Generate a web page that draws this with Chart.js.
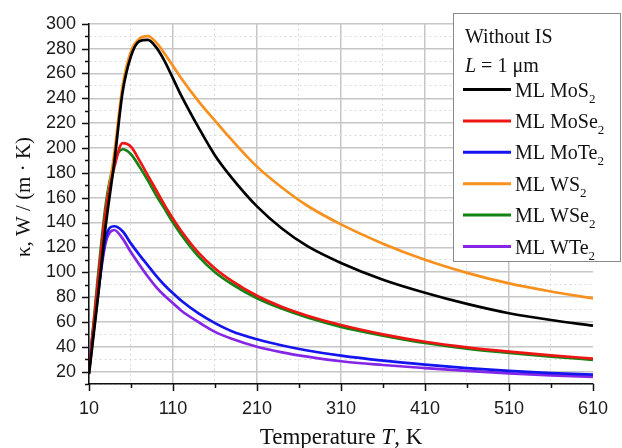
<!DOCTYPE html>
<html>
<head>
<meta charset="utf-8">
<script src="https://cdn.jsdelivr.net/npm/chart.js@4.4.1/dist/chart.umd.min.js"></script>
<style>
  body { margin: 0; background: #fff; }
  canvas { display: block; }
</style>
</head>
<body>
<canvas id="kappaChart" width="622" height="448"></canvas>
<script>
// Temperature grid (K) and thermal conductivity values, W/(m K)
const temps = [10, 20, 30, 40, 50, 60, 70, 80, 90, 100, 110, 120, 140, 160, 180, 210, 240, 270, 310, 360, 410, 460, 510, 560, 610];

const mos2  = [18, 76, 138, 188, 245, 274, 286, 287, 281, 270, 256, 242, 217, 194, 176, 153, 135, 121, 107.5, 94, 83.5, 74.5, 67, 61.5, 57];
const mose2 = [19, 88, 150, 184, 204, 201, 190, 178, 166, 154, 143, 133, 116, 103, 93, 81, 72, 65, 57.5, 50, 44, 39.5, 36, 33, 30.5];
const mote2 = [22, 78, 128, 137, 133, 123, 114, 105.5, 97, 89.5, 83, 77, 67, 59, 52.5, 46, 41, 37, 32.8, 28.8, 25.6, 22.8, 20.5, 18.8, 17.5];
const ws2   = [18, 80, 148, 195, 250, 278, 288, 290, 285, 276, 266, 256, 238, 222, 206.5, 185, 168, 153.5, 138.5, 123, 110, 99.5, 91, 84.5, 79];
const wse2  = [20, 92, 155, 188, 199, 195, 185, 174, 162, 151, 140, 130, 113, 100, 90.5, 79, 70.5, 63.5, 56, 49, 43, 38.5, 35, 32, 29.5];
const wte2  = [27, 80, 124, 134, 127, 116, 106, 96.5, 88, 81, 75, 69, 60, 52, 46.5, 40, 35.5, 32, 28.3, 25.3, 22.8, 20.5, 18.6, 17, 15.7];

const seriesNames = ['MoS', 'MoSe', 'MoTe', 'WS', 'WSe', 'WTe'];
const seriesValues = [mos2, mose2, mote2, ws2, wse2, wte2];
const seriesColors = ['#000000', '#ee1515', '#1414ee', '#f8901e', '#138413', '#8526e6'];

const xMajorTicks = [10, 110, 210, 310, 410, 510, 610];
const xMinorTicks = [60, 160, 260, 360, 460, 560];
const yMajorTicks = [20, 40, 60, 80, 100, 120, 140, 160, 180, 200, 220, 240, 260, 280, 300];
const yMinorTicks = [10, 30, 50, 70, 90, 110, 130, 150, 170, 190, 210, 230, 250, 270, 290];

const serif = '"Liberation Serif", "Times New Roman", serif';
const sans = '"Liberation Sans", Arial, sans-serif';

function isMajor(scale, value) {
    return (scale === 'x' ? xMajorTicks : yMajorTicks).includes(value);
}

function gridColor(axis) {
    return function (ctx) {
        if (!ctx.tick) return '#c8c8c8';
        if (axis === 'x' && ctx.tick.value === 610) return 'rgba(0,0,0,0)';
        return isMajor(axis, ctx.tick.value) ? '#c6c6c6' : '#dadada';
    };
}

function gridDash(axis) {
    return function (ctx) {
        if (!ctx.tick) return [];
        return isMajor(axis, ctx.tick.value) ? [] : [2, 3];
    };
}

// Small outward tick marks, long for labelled ticks
const tickMarks = {
    id: 'tickMarks',
    afterDraw(chart) {
        const { ctx, chartArea: a } = chart;
        const x = chart.scales.x, y = chart.scales.y;
        ctx.save();
        ctx.strokeStyle = '#111';
        ctx.lineWidth = 1.5;
        ctx.beginPath();
        y.ticks.forEach(function (t) {
            const py = Math.round(y.getPixelForValue(t.value)) + 0.5;
            const len = isMajor('y', t.value) ? 7 : 4;
            ctx.moveTo(a.left - len, py);
            ctx.lineTo(a.left, py);
        });
        x.ticks.forEach(function (t) {
            const px = Math.round(x.getPixelForValue(t.value)) + 0.5;
            const len = isMajor('x', t.value) ? 7 : 4;
            ctx.moveTo(px, a.bottom);
            ctx.lineTo(px, a.bottom + len);
        });
        ctx.stroke();
        ctx.restore();
    }
};

// Axis titles with italic parts
function drawParts(ctx, parts, size, x, y) {
    let total = 0;
    parts.forEach(function (p) {
        ctx.font = (p.italic ? 'italic ' : '') + size + 'px ' + serif;
        p.w = ctx.measureText(p.text).width;
        total += p.w;
    });
    let cx = x - total / 2;
    parts.forEach(function (p) {
        ctx.font = (p.italic ? 'italic ' : '') + size + 'px ' + serif;
        ctx.fillText(p.text, cx, y);
        cx += p.w;
    });
}

const axisTitles = {
    id: 'axisTitles',
    afterDraw(chart) {
        const { ctx, chartArea: a } = chart;
        ctx.save();
        ctx.fillStyle = '#111';
        ctx.textBaseline = 'alphabetic';
        ctx.textAlign = 'left';
        drawParts(ctx, [{ text: 'Temperature ' }, { text: 'T', italic: true }, { text: ', K' }], 23, (a.left + a.right) / 2, 444);
        ctx.translate(30, 197);
        ctx.rotate(-Math.PI / 2);
        drawParts(ctx, [{ text: 'κ, W / (m · K)' }], 21, 0, 0);
        ctx.restore();
    }
};

// Boxed legend with header lines and subscripts
const boxLegend = {
    id: 'boxLegend',
    afterDraw(chart) {
        const ctx = chart.ctx;
        ctx.save();
        ctx.fillStyle = '#fff';
        ctx.fillRect(453.5, 13.5, 167, 248);
        ctx.strokeStyle = '#8a8a8a';
        ctx.lineWidth = 1;
        ctx.strokeRect(453.5, 13.5, 167, 248);

        ctx.fillStyle = '#111';
        ctx.textBaseline = 'alphabetic';
        ctx.textAlign = 'left';
        ctx.font = '20px ' + serif;
        ctx.fillText('Without IS', 465, 43);
        ctx.font = 'italic 20px ' + serif;
        ctx.fillText('L', 465, 72);
        const lw = ctx.measureText('L').width;
        ctx.font = '20px ' + serif;
        ctx.fillText(' = 1 μm', 465 + lw, 72);

        chart.data.datasets.forEach(function (ds, i) {
            const ly = 89.5 + i * 31.4;
            ctx.strokeStyle = ds.borderColor;
            ctx.lineWidth = 3;
            ctx.beginPath();
            ctx.moveTo(463, ly);
            ctx.lineTo(511, ly);
            ctx.stroke();
            ctx.font = '20px ' + serif;
            const txt = 'ML ' + seriesNames[i];
            ctx.fillText(txt, 515, ly + 7);
            const w = ctx.measureText(txt).width;
            ctx.font = '13px ' + serif;
            ctx.fillText('2', 515 + w, ly + 13);
        });
        ctx.restore();
    }
};

const datasets = seriesNames.map(function (name, i) {
    return {
        label: 'ML ' + name + '₂',
        data: temps.map(function (t, j) { return { x: t, y: seriesValues[i][j] }; }),
        borderColor: seriesColors[i],
        backgroundColor: seriesColors[i],
        borderWidth: 2.7,
        pointRadius: 0,
        cubicInterpolationMode: 'monotone',
        fill: false
    };
});

const ctx = document.getElementById('kappaChart').getContext('2d');
const kappaChart = new Chart(ctx, {
    type: 'line',
    data: { datasets: datasets },
    options: {
        responsive: false,
        animation: false,
        devicePixelRatio: 1,
        layout: { padding: { top: 22, right: 16, left: 0, bottom: 0 } },
        plugins: {
            legend: { display: false },
            tooltip: { enabled: false }
        },
        scales: {
            x: {
                type: 'linear',
                min: 10,
                max: 610,
                afterBuildTicks: function (scale) {
                    scale.ticks = xMajorTicks.concat(xMinorTicks).sort(function (a, b) { return a - b; })
                        .map(function (v) { return { value: v }; });
                },
                afterFit: function (scale) { scale.height = 64; },
                ticks: {
                    autoSkip: false,
                    maxRotation: 0,
                    padding: 14,
                    color: '#1a1a1a',
                    font: { family: sans, size: 18 },
                    callback: function (v) { return xMajorTicks.includes(v) ? String(v) : ''; }
                },
                grid: {
                    drawTicks: false,
                    color: gridColor('x'),
                    lineWidth: function (c) { return c.tick && isMajor('x', c.tick.value) ? 1.5 : 1; }
                },
                border: { display: true, color: '#111', width: 1.5, dash: gridDash('x') }
            },
            y: {
                min: 10,
                max: 300,
                afterBuildTicks: function (scale) {
                    scale.ticks = yMajorTicks.concat(yMinorTicks).sort(function (a, b) { return a - b; })
                        .map(function (v) { return { value: v }; });
                },
                afterFit: function (scale) { scale.width = 89; },
                ticks: {
                    autoSkip: false,
                    padding: 13,
                    color: '#1a1a1a',
                    font: { family: sans, size: 18 },
                    callback: function (v) { return yMajorTicks.includes(v) ? String(v) : ''; }
                },
                grid: {
                    drawTicks: false,
                    color: gridColor('y'),
                    lineWidth: function (c) { return c.tick && isMajor('y', c.tick.value) ? 1.5 : 1; }
                },
                border: { display: true, color: '#111', width: 1.5, dash: gridDash('y') }
            }
        }
    },
    plugins: [tickMarks, axisTitles, boxLegend]
});
</script>
</body>
</html>
